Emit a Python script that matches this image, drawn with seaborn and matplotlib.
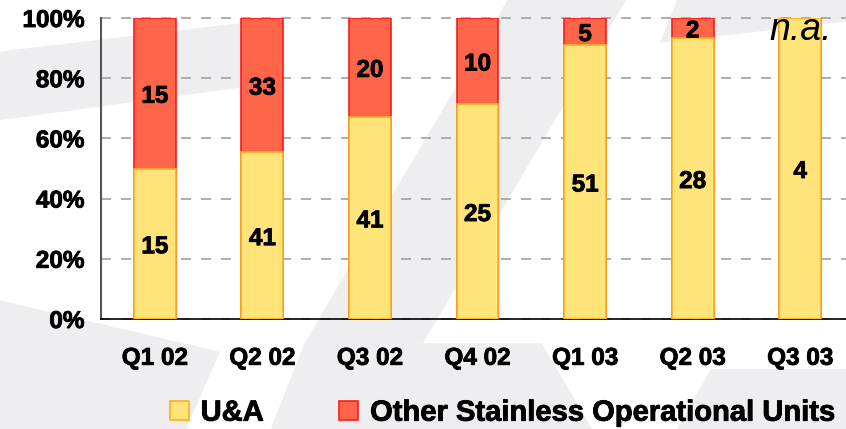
import numpy as np
import pandas as pd
import matplotlib.pyplot as plt
import matplotlib.patheffects as pe
import seaborn as sns
from matplotlib.patches import Patch, Polygon

# Data
quarters = ['Q1 02', 'Q2 02', 'Q3 02', 'Q4 02', 'Q1 03', 'Q2 03', 'Q3 03']
ua = [15, 41, 41, 25, 51, 28, 4]
other = [15, 33, 20, 10, 5, 2, None]   # None = n.a.

yellow = '#ffe47a'
yellow_edge = '#ffae1f'
red = '#ff6649'
red_edge = '#ff1a1a'

other_num = [o if o is not None else 0 for o in other]
df = pd.DataFrame({'quarter': quarters, 'ua': ua, 'other': other_num})
df['total'] = df['ua'] + df['other']
df['ua_pct'] = df['ua'] / df['total'] * 100
df['all_pct'] = 100.0

sns.set_style('white')
plt.rcParams['font.family'] = ['Liberation Sans', 'DejaVu Sans']
plt.rcParams['text.color'] = 'black'
plt.rcParams['xtick.color'] = 'black'
plt.rcParams['ytick.color'] = 'black'

# slightly heavier bold text
heavy = [pe.withStroke(linewidth=0.6, foreground='black')]

fig = plt.figure(figsize=(8.46, 4.29), dpi=100)
fig.patch.set_facecolor('white')

# faint watermark shapes in the background
bg = '#eeeef0'
shapes = [
    [(0, 0.72), (0.30, 0.80), (0.30, 0.95), (0, 0.88)],
    [(0.60, 1.0), (0.74, 1.0), (0.50, 0.20), (0.36, 0.20)],
    [(0, 0.0), (0.22, 0.0), (0.26, 0.18), (0, 0.30)],
    [(0.32, 0.0), (0.70, 0.0), (0.64, 0.20), (0.36, 0.20)],
    [(0.80, 0.0), (1.0, 0.0), (1.0, 0.14), (0.84, 0.14)],
    [(0.78, 0.90), (1.0, 0.95), (1.0, 1.0), (0.80, 1.0)],
]
for s in shapes:
    fig.patches.append(Polygon(s, closed=True, transform=fig.transFigure,
                               facecolor=bg, edgecolor='none', zorder=-5))

ax = fig.add_axes([101 / 846, 110 / 429, 753 / 846, 301 / 429])
ax.set_facecolor('none')

sns.barplot(data=df, x='quarter', y='all_pct', color=red, saturation=1,
            width=0.39, edgecolor=red_edge, linewidth=1.2, ax=ax, zorder=2)
sns.barplot(data=df, x='quarter', y='ua_pct', color=yellow, saturation=1,
            width=0.39, edgecolor=yellow_edge, linewidth=1.2, ax=ax, zorder=3)

ax.set_xlim(-0.5, len(quarters) - 0.5)
ax.set_ylim(0, 100)

# value labels
for i, row in df.iterrows():
    ax.text(i, row['ua_pct'] / 2 - 1, str(row['ua']), ha='center', va='center',
            fontsize=17.5, fontweight='bold', zorder=5, path_effects=heavy)
    if other[i] is not None:
        ax.text(i, (row['ua_pct'] + 100) / 2 - 1, str(other[i]), ha='center',
                va='center', fontsize=17.5, fontweight='bold', zorder=5,
                path_effects=heavy)
    else:
        ax.text(i, 96, 'n.a.', ha='center', va='center', fontsize=27,
                style='italic', zorder=5)

# axes styling
ax.set_yticks([0, 20, 40, 60, 80, 100])
ax.set_yticklabels(['0%', '20%', '40%', '60%', '80%', '100%'],
                   fontsize=17.5, fontweight='bold')
ax.set_xticks(range(len(quarters)))
ax.set_xticklabels(quarters, fontsize=17.5, fontweight='bold')
for lbl in ax.get_xticklabels() + ax.get_yticklabels():
    lbl.set_path_effects(heavy)
ax.set_xticks(np.arange(-0.5, len(quarters)), minor=True)
ax.tick_params(axis='x', which='major', length=0, pad=20)
ax.tick_params(axis='x', which='minor', length=8, direction='out',
               color='#444444', width=1.2)
ax.tick_params(axis='y', length=6, direction='out', color='#555555',
               width=1.2, pad=6)
ax.set_xlabel('')
ax.set_ylabel('')

ax.yaxis.grid(True, linestyle=(0, (6, 6)), color='#a0a0a0', linewidth=1.2)
for gl in ax.yaxis.get_gridlines():
    gl.set_clip_on(False)
ax.set_axisbelow(True)

for side in ['top', 'right']:
    ax.spines[side].set_visible(False)
ax.spines['left'].set_color('#555555')
ax.spines['left'].set_linewidth(1.5)
ax.spines['bottom'].set_color('black')
ax.spines['bottom'].set_linewidth(1.2)

handles = [Patch(facecolor=yellow, edgecolor=yellow_edge, linewidth=1.2, label='U&A'),
           Patch(facecolor=red, edgecolor=red_edge, linewidth=1.2,
                 label='Other Stainless Operational Units')]
leg = fig.legend(handles=handles, loc='center', bbox_to_anchor=(0.594, 0.038), ncol=2,
                 frameon=False, prop={'size': 21, 'weight': 'bold'},
                 handlelength=0.65, handleheight=0.65, handletextpad=0.4,
                 columnspacing=2.6)
for t in leg.get_texts():
    t.set_path_effects(heavy)

fig.savefig('out.png', dpi=100)
